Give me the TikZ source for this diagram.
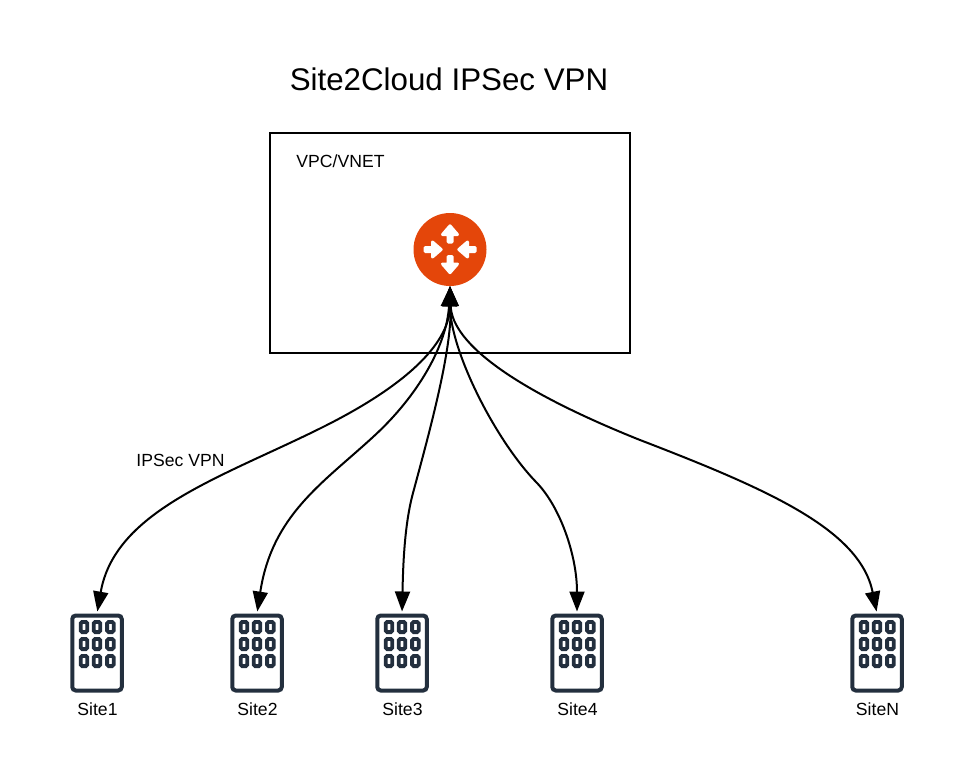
\documentclass[tikz,border=0pt]{standalone}
\usepackage{fontspec}
\setmainfont{Liberation Sans}
\usetikzlibrary{arrows.meta}
\definecolor{hubred}{HTML}{E4460A}
\definecolor{sitedark}{HTML}{232F3E}
\tikzset{
  sitebox/.style={draw=sitedark, line width=4pt, rounded corners=3.5pt, minimum width=49.5pt, minimum height=75pt, inner sep=0pt},
  sitewin/.style={draw=sitedark, line width=3.8pt, rounded corners=1.5pt, minimum width=6.6pt, minimum height=10.2pt, inner sep=0pt},
  sitetext/.style={font=\fontsize{17.6}{20}\selectfont},
  hubarrow/.style={fill=white, draw=white, line width=3pt, line join=round},
  link/.style={draw=black, line width=2pt, shorten >=2pt, {Triangle[length=20pt,width=16pt]}-{Triangle[length=20pt,width=15pt]}},
}
\begin{document}
\begin{tikzpicture}[x=1pt, y=-1pt]
\useasboundingbox (0,0) rectangle (975,763);
%
\node[font=\fontsize{31.3}{36}\selectfont] (title) at (449,79) {Site2Cloud IPSec VPN};
\node[draw, line width=1.8pt, minimum width=360pt, minimum height=220pt, inner sep=0pt] (vpc) at (450,243) {};
\node[sitetext] (vpclabel) at (340.5,161) {VPC/VNET};
%
\node[circle, fill=hubred, minimum size=73pt, inner sep=0pt] (hub) at (450,249.5) {};
\foreach \x/\y/\a in {450/224/0, 450/274.5/180, 443/249.5/-90, 457/249.5/90} {
  \path[hubarrow, shift={(\x,\y)}, rotate=\a]
  (0,1.8) -- (7.5,10.5) -- (2,10.5) -- (2,18) -- (-2,18) -- (-2,10.5) -- (-7.5,10.5) -- cycle;
}
%
\foreach \n/\x/\t in {1/97/Site1, 2/257/Site2, 3/402/Site3, 4/577/Site4, N/877/SiteN} {
  \node[sitebox] (site\n) at (\x,653) {};
  \foreach \i in {-13,0,13.4} \foreach \y in {627,644,661} {
    \node[sitewin] at (\x+\i,\y) {};
  }
  \node[sitetext] (label\n) at (\x+0.5,709.5) {\t};
}
%
\node[sitetext] (vpnlabel) at (180.5,460) {IPSec VPN};
%
\coordinate (a1) at (323,427);
\coordinate (a2) at (373,437);
\coordinate (a3) at (413,493);
\coordinate (a4) at (537,483);
\coordinate (aN) at (640,440);
%
\draw[link] (hub.south) .. controls (450,340) and (413,382) .. (a1) .. controls (223,477) and (115,510) .. (site1.north);
\draw[link] (hub.south) .. controls (447,345) and (418,396) .. (a2) .. controls (323,483) and (272,515) .. (site2.north);
\draw[link] (hub.south) .. controls (452,350) and (430,430) .. (a3) .. controls (404,526) and (403,570) .. (site3.north);
\draw[link] (hub.south) .. controls (450,350) and (495,440) .. (a4) .. controls (560,507) and (577,555) .. (site4.north);
\draw[link] (hub.south) .. controls (452,345) and (520,392) .. (aN) .. controls (770,490) and (860,530) .. (siteN.north);
%
\end{tikzpicture}
\end{document}
